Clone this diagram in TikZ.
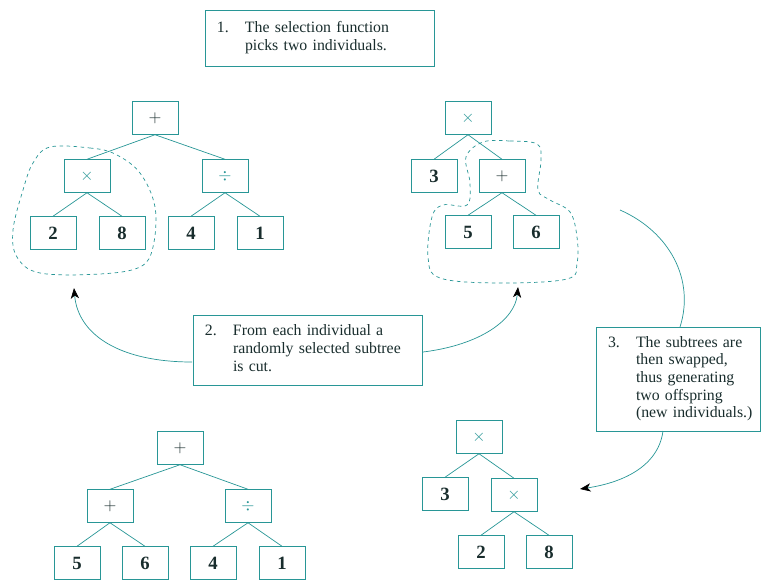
\documentclass[tikz,border=0pt]{standalone}
\usepackage{fontspec}
\setmainfont{Liberation Serif}
\usetikzlibrary{arrows.meta}

\definecolor{lineteal}{RGB}{40,150,150}
\definecolor{inkdark}{RGB}{25,45,45}

\tikzset{
  treebox/.style={draw=lineteal, minimum width=1.38cm, minimum height=0.99cm, inner sep=0pt},
  num/.style={treebox, text=inkdark, font=\fontsize{16}{16}\selectfont\bfseries},
  oper/.style={treebox, text=lineteal, font=\fontsize{14}{14}\selectfont},
  notebox/.style={draw=lineteal, align=left, inner xsep=0.36cm, inner ysep=0pt, text=inkdark,
    font=\fontsize{13.5}{15}\selectfont},
  branch/.style={draw=lineteal, semithick},
  cutline/.style={draw=lineteal, dashed, semithick},
  flow/.style={draw=lineteal, semithick}
}
\newcommand{\stepno}[1]{\makebox[0.84cm][l]{#1}}

\begin{document}
\begin{tikzpicture}[x=0.03cm, y=-0.03cm, >={Stealth[black, length=9pt, width=7pt, inset=2.5pt]}]
    \useasboundingbox (0,0) rectangle (762,581);
    \clip (0,0) rectangle (762,581);

    % step notes
    \node[notebox, text width=6.15cm, minimum height=1.68cm] (noteA) at (319.5,38)
        {\begin{tabular}{@{}l@{}l@{}}\stepno{1.} & The selection function\\ & picks two individuals.\end{tabular}};
    \node[notebox, text width=6.15cm, minimum height=2.1cm] (noteB) at (307.5,350)
        {\begin{tabular}{@{}l@{}l@{}}\stepno{2.} & From each individual a\\ & randomly selected subtree\\ & is cut.\end{tabular}};
    \node[notebox, text width=4.2cm, minimum height=3.12cm] (noteC) at (678,379)
        {\begin{tabular}{@{}l@{}l@{}}\stepno{3.} & The subtrees are\\ & then swapped,\\ & thus generating\\ & two offspring\\ & (new individuals.)\end{tabular}};

    % first parent
    \node[oper, text=inkdark] (pA) at (155,118) {$+$};
    \node[oper] (pAl) at (87,176) {$\times$};
    \node[oper] (pAr) at (225,176) {$\div$};
    \node[num] (pA1) at (53,233) {2};
    \node[num] (pA2) at (122,233) {8};
    \node[num] (pA3) at (191,233) {4};
    \node[num] (pA4) at (260,233) {1};
    \draw[branch] (pA.south) -- (pAl.north);
    \draw[branch] (pA.south) -- (pAr.north);
    \draw[branch] (pAl.south) -- (pA1.north);
    \draw[branch] (pAl.south) -- (pA2.north);
    \draw[branch] (pAr.south) -- (pA3.north);
    \draw[branch] (pAr.south) -- (pA4.north);
    \draw[cutline] plot[smooth cycle, tension=0.6] coordinates
        {(50,147) (90,148) (115,154) (140,173) (155,207) (153,247) (140,267) (100,274) (40,273) (17,257) (13,230) (23,190) (33,163)};

    % second parent
    \node[oper] (pB) at (468,118) {$\times$};
    \node[num] (pBl) at (434,176) {3};
    \node[oper, text=inkdark] (pBr) at (502,176) {$+$};
    \node[num] (pB1) at (468,232) {5};
    \node[num] (pB2) at (536,232) {6};
    \draw[branch] (pB.south) -- (pBl.north);
    \draw[branch] (pB.south) -- (pBr.north);
    \draw[branch] (pBr.south) -- (pB1.north);
    \draw[branch] (pBr.south) -- (pB2.north);
    \draw[cutline] plot[smooth cycle, tension=0.6] coordinates
        {(483,142) (510,141) (537,144) (541,160) (538,190) (550,200) (570,212) (577,237) (577,263) (567,279) (500,283) (440,278) (428,257) (432,217) (443,205) (467,205) (470,183) (466,157)};

    % first offspring
    \node[oper, text=inkdark] (cA) at (180,448) {$+$};
    \node[oper, text=inkdark] (cAl) at (110,506) {$+$};
    \node[oper] (cAr) at (248,506) {$\div$};
    \node[num] (cA1) at (77,563) {5};
    \node[num] (cA2) at (145,563) {6};
    \node[num] (cA3) at (213,563) {4};
    \node[num] (cA4) at (282,563) {1};
    \draw[branch] (cA.south) -- (cAl.north);
    \draw[branch] (cA.south) -- (cAr.north);
    \draw[branch] (cAl.south) -- (cA1.north);
    \draw[branch] (cAl.south) -- (cA2.north);
    \draw[branch] (cAr.south) -- (cA3.north);
    \draw[branch] (cAr.south) -- (cA4.north);

    % second offspring
    \node[oper] (cB) at (479,437) {$\times$};
    \node[num] (cBl) at (445,494) {3};
    \node[oper] (cBr) at (514,495) {$\times$};
    \node[num] (cB1) at (481,552) {2};
    \node[num] (cB2) at (549,552) {8};
    \draw[branch] (cB.south) -- (cBl.north);
    \draw[branch] (cB.south) -- (cBr.north);
    \draw[branch] (cBr.south) -- (cB1.north);
    \draw[branch] (cBr.south) -- (cB2.north);

    % connectors
    \coordinate (cutL) at (192,362);
    \coordinate (cutR) at (423,352);
    \coordinate (tipL) at (74,288);
    \coordinate (tipR) at (518,287);
    \coordinate (swapTop) at (620,210);
    \coordinate (swapIn) at (680,327);
    \coordinate (swapOut) at (663,431);
    \coordinate (tipC) at (580,489);
    \draw[flow, ->] (cutL) .. controls (120,362) and (78,335) .. (tipL);
    \draw[flow, ->] (cutR) .. controls (480,345) and (515,320) .. (tipR);
    \draw[flow] (swapTop) .. controls (670,232) and (695,280) .. (swapIn);
    \draw[flow, ->] (swapOut) .. controls (658,468) and (620,483) .. (tipC);
\end{tikzpicture}
\end{document}
